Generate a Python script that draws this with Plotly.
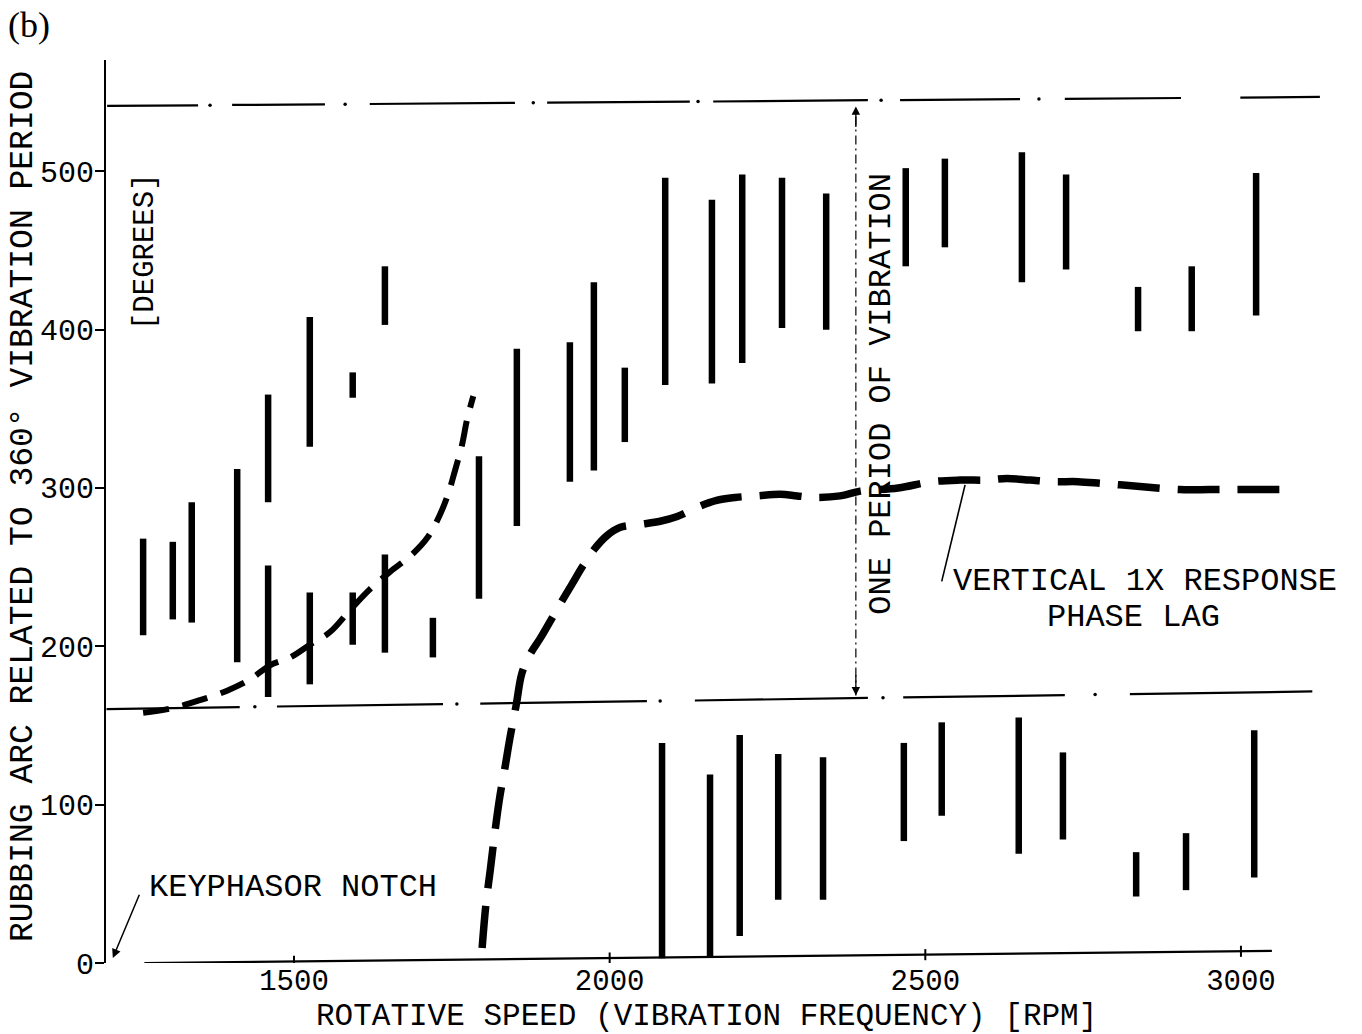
import numpy as np
import plotly.graph_objects as go

# ---------------- data ----------------
# rubbing arcs (vertical bars): rotative speed [RPM], upper/lower end [deg]
upper_rpm = [1261, 1308, 1338, 1410, 1459, 1525, 1593, 1644, 1793, 1853, 1937, 1975, 2024,
             2088, 2162, 2210, 2273, 2343, 2469, 2531, 2653, 2723, 2837, 2922, 3024]
upper_high = [268, 266, 291, 312, 359, 408, 373, 440, 320, 388, 392, 430, 376,
              496, 482, 498, 496, 486, 502, 508, 512, 498, 427, 440, 499]
upper_low = [207, 217, 215, 190, 291, 326, 357, 403, 230, 276, 304, 311, 329,
             365, 366, 379, 401, 400, 440, 452, 430, 438, 399, 399, 409]

lower_rpm = [1459, 1525, 1593, 1644, 1720, 2083, 2159, 2206, 2267, 2338, 2466, 2526,
             2648, 2718, 2834, 2913, 3021]
lower_high = [251, 234, 234, 258, 218, 139, 119, 144, 132, 130, 139, 152,
              155, 133, 70, 82, 147]
lower_low = [168, 176, 201, 196, 193, 3, 4, 17, 40, 40, 77, 93,
             69, 78, 42, 46, 54]

# vertical 1X response phase lag (dashed curves)
lag1_rpm = [1261, 1308, 1351, 1394, 1430, 1462, 1494, 1525, 1557, 1589, 1620, 1652, 1687,
            1712, 1731, 1744, 1755, 1766, 1774, 1784]
lag1_deg = [158, 161, 166, 172, 179, 188, 193, 201, 209, 223, 236, 247, 258,
            269, 283, 296, 311, 327, 343, 358]

lag2_rpm = [1798, 1804, 1811, 1818, 1826, 1834, 1842, 1852, 1861, 1874, 1890, 1909, 1925,
            1940, 1958, 1977, 1996, 2016, 2048, 2080, 2107, 2140, 2168, 2199, 2233, 2270,
            2297, 2325, 2365, 2397, 2457, 2511, 2555, 2598, 2629, 2666, 2701, 2742, 2777,
            2808, 2840, 2903, 2951, 3006, 3075]
lag2_deg = [9.5, 37, 59, 82, 105, 123, 142, 163, 183, 195, 205, 218, 229,
            239, 251, 262, 270, 275, 277, 279, 282, 288, 292, 294, 295, 296,
            295, 294, 295, 298, 300, 304, 305, 305, 306, 305, 304, 304, 303,
            302, 301, 299, 299, 299, 299]

# one-period limits (dash-dot reference lines): dash start/end and dots
top_dash_rpm = [(1204, 1348), (1402, 1549), (1620, 1850), (1901, 2127), (2164, 2409),
                (2460, 2650), (2721, 2905), (2999, 3125)]
top_dash_deg = [(541.3, 541.7), (541.9, 542.3), (542.5, 543.2), (543.4, 544.0), (544.1, 544.9),
                (545.0, 545.6), (545.8, 546.3), (546.6, 547.0)]
top_dot_rpm = [1367, 1581, 1879, 2140, 2430, 2680]
top_dot_deg = [541.8, 542.4, 543.3, 544.1, 544.9, 545.7]

bot_dash_rpm = [(1203, 1414), (1473, 1736), (1795, 2059), (2135, 2409), (2465, 2721), (2824, 3113)]
bot_dash_deg = [(160.4, 161.6), (162.0, 163.5), (163.8, 165.4), (165.8, 167.4), (167.7, 169.2),
                (169.8, 171.5)]
bot_dot_rpm = [1438, 1758, 2080, 2433, 2769]
bot_dot_deg = [161.8, 163.6, 165.5, 167.5, 169.5]

# drawn x-axis line (starts right of the y axis) and its ticks
xaxis_rpm = [1263, 3049]
xaxis_deg = [0, 7.6]
x_tickvals = [1500, 2000, 2500, 3000]
x_ticktext = ["1500", "2000", "2500", "3000"]
y_tickvals = [0, 100, 200, 300, 400, 500]
y_ticktext = ["0", "100", "200", "300", "400", "500"]

period_rpm = 2390
period_deg = (169, 541)

x_title = "ROTATIVE SPEED (VIBRATION FREQUENCY) [RPM]"
y_title = "RUBBING ARC RELATED TO 360° VIBRATION PERIOD"

FONT = "Liberation Mono"
BLACK = "black"

fig = go.Figure()


def seg_xy(xs, lows, highs):
    X, Y = [], []
    for x, lo, hi in zip(xs, lows, highs):
        X += [x, x, None]
        Y += [lo, hi, None]
    return X, Y


# bars
for xs, lo, hi in [(upper_rpm, upper_low, upper_high), (lower_rpm, lower_low, lower_high)]:
    X, Y = seg_xy(xs, lo, hi)
    fig.add_trace(go.Scatter(x=X, y=Y, mode="lines", line=dict(color=BLACK, width=6.5),
                             hoverinfo="skip", showlegend=False))

# reference dash-dot lines
for dashes, degs, drpm, ddeg in [(top_dash_rpm, top_dash_deg, top_dot_rpm, top_dot_deg),
                                 (bot_dash_rpm, bot_dash_deg, bot_dot_rpm, bot_dot_deg)]:
    X, Y = [], []
    for (a, b), (ya, yb) in zip(dashes, degs):
        X += [a, b, None]
        Y += [ya, yb, None]
    fig.add_trace(go.Scatter(x=X, y=Y, mode="lines", line=dict(color=BLACK, width=2.2),
                             hoverinfo="skip", showlegend=False))
    fig.add_trace(go.Scatter(x=drpm, y=ddeg, mode="markers",
                             marker=dict(color=BLACK, size=3.5, symbol="circle"),
                             hoverinfo="skip", showlegend=False))

# phase lag curves
fig.add_trace(go.Scatter(x=lag1_rpm, y=lag1_deg, mode="lines",
                         line=dict(color=BLACK, width=6, dash="26px,14px", shape="spline"),
                         hoverinfo="skip", showlegend=False))
fig.add_trace(go.Scatter(x=lag2_rpm, y=lag2_deg, mode="lines",
                         line=dict(color=BLACK, width=7.5, dash="42px,18px", shape="spline"),
                         hoverinfo="skip", showlegend=False))

# drawn x axis line
fig.add_trace(go.Scatter(x=xaxis_rpm, y=xaxis_deg, mode="lines",
                         line=dict(color=BLACK, width=2.2), hoverinfo="skip", showlegend=False))
# crossing tick marks on it
tx, ty = [], []
for v in x_tickvals:
    yc = float(np.interp(v, xaxis_rpm, xaxis_deg))
    tx += [v, v, None]
    ty += [yc - 3.5, yc + 3.5, None]
fig.add_trace(go.Scatter(x=tx, y=ty, mode="lines", line=dict(color=BLACK, width=2),
                         hoverinfo="skip", showlegend=False, cliponaxis=False))

# one period of vibration arrow
fig.add_shape(type="line", xref="x", yref="y", x0=period_rpm, x1=period_rpm,
              y0=period_deg[0], y1=period_deg[1],
              line=dict(color=BLACK, width=1.2, dash="9px,4px,2px,4px"))
for yv, off in [(period_deg[1], 22), (period_deg[0], -22)]:
    fig.add_annotation(x=period_rpm, y=yv, ax=0, ay=off, text="", showarrow=True,
                       arrowhead=2, arrowsize=1.3, arrowwidth=1.3, arrowcolor=BLACK)

# leader line to the phase lag curve
fig.add_shape(type="line", xref="x", yref="y", x0=2563, y0=302, x1=2526, y1=241,
              line=dict(color=BLACK, width=1.6))

# keyphasor notch arrow
fig.add_annotation(x=1213, y=3.2, ax=1256, ay=44, axref="x", ayref="y", text="",
                   showarrow=True, arrowhead=2, arrowsize=1.2, arrowwidth=1.5, arrowcolor=BLACK)

# texts
ann_font = dict(family=FONT, size=32, color=BLACK)
fig.add_annotation(x=1267, y=47.4, text="KEYPHASOR NOTCH", showarrow=False,
                   xanchor="left", yanchor="middle", font=ann_font)
fig.add_annotation(x=2540, y=241, text="VERTICAL 1X RESPONSE", showarrow=False,
                   xanchor="left", yanchor="middle", font=ann_font)
fig.add_annotation(x=2689, y=218, text="PHASE LAG", showarrow=False,
                   xanchor="left", yanchor="middle", font=ann_font)
fig.add_annotation(x=2431, y=359.4, text="ONE PERIOD OF VIBRATION", showarrow=False,
                   textangle=-90, xanchor="center", yanchor="middle", font=ann_font)
fig.add_annotation(x=1264, y=449, text="[DEGREES]", showarrow=False,
                   textangle=-90, xanchor="center", yanchor="middle",
                   font=dict(family=FONT, size=29, color=BLACK))
fig.add_annotation(x=-0.0634, y=1.0388, xref="paper", yref="paper", text="(b)",
                   showarrow=False, xanchor="center", yanchor="middle",
                   font=dict(family="Liberation Serif", size=36, color=BLACK))
# axis titles
fig.add_annotation(x=0.495, y=-0.0588, xref="paper", yref="paper", text=x_title,
                   showarrow=False, xanchor="center", yanchor="middle",
                   font=dict(family=FONT, size=31, color=BLACK))
fig.add_annotation(x=-0.0675, y=0.505, xref="paper", yref="paper", text=y_title,
                   showarrow=False, textangle=-90, xanchor="center", yanchor="middle",
                   font=dict(family=FONT, size=33, color=BLACK))

fig.update_layout(
    width=1362, height=1034,
    margin=dict(l=106, r=42, t=60, b=71, autoexpand=False),
    paper_bgcolor="white", plot_bgcolor="white",
    showlegend=False,
    font=dict(family=FONT, size=30, color=BLACK),
    xaxis=dict(range=[1202.2, 3125.2], showgrid=False, zeroline=False, showline=False,
               automargin=False,
               tickvals=x_tickvals, ticktext=x_ticktext, ticks="",
               ticklabelstandoff=-3,
               tickfont=dict(family=FONT, size=29)),
    yaxis=dict(range=[0, 570.3], showgrid=False, zeroline=False, showline=True,
               automargin=False,
               linecolor=BLACK, linewidth=2, ticks="outside", ticklen=9, tickwidth=2,
               tickcolor=BLACK, tickvals=y_tickvals, ticktext=y_ticktext,
               ticklabelstandoff=-5,
               tickfont=dict(family=FONT, size=30)),
)

fig.write_html("out.html", config={"displayModeBar": False},
               post_script="document.body.style.margin='0px';")
